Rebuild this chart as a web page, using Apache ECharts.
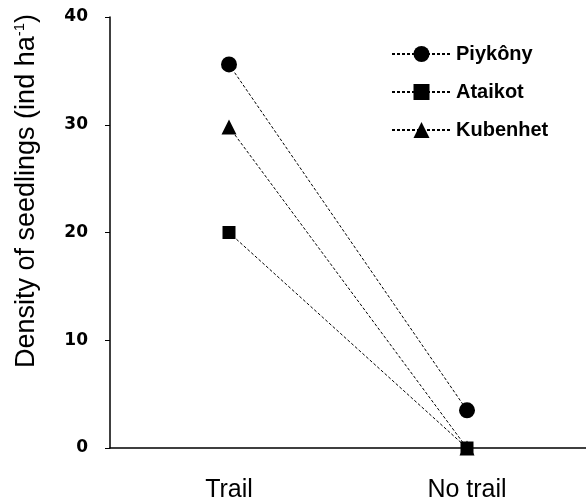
<!DOCTYPE html>
<html>
<head>
<meta charset="utf-8">
<script src="https://cdn.jsdelivr.net/npm/echarts@6/dist/echarts.min.js"></script>
<style>
html,body{margin:0;padding:0;background:#fff;}
#chart{width:586px;height:503px;}
</style>
</head>
<body>
<div id="chart"></div>
<script>
var categories = ['Trail', 'No trail'];
var piykony = [35.6, 3.5];
var ataikot = [20, 0];
var kubenhet = [29.8, 0];
var yTicks = [0, 10, 20, 30, 40];

var chart = echarts.init(document.getElementById('chart'));

function mkSeries(name, data, symbol, size) {
    return {
        name: name,
        type: 'line',
        data: data,
        symbol: symbol,
        symbolSize: size,
        itemStyle: {color: '#000'},
        lineStyle: {color: '#000', width: 1, type: [3, 2]},
        z: 3
    };
}

chart.setOption({
    animation: false,
    grid: {left: 110, right: 0, top: 17, bottom: 54},
    legend: {
        orient: 'vertical',
        left: 386,
        top: 39,
        itemWidth: 59,
        itemHeight: 20,
        itemGap: 18,
        textStyle: {fontFamily: 'Liberation Sans', fontWeight: 'bold', fontSize: 20, color: '#000'},
        data: ['Piykôny', 'Ataikot', 'Kubenhet']
    },
    xAxis: {
        type: 'category',
        data: categories,
        boundaryGap: true,
        axisLine: {lineStyle: {color: '#000', width: 1.5}},
        axisTick: {alignWithLabel: true, inside: true, length: 6, lineStyle: {color: '#000'}},
        axisLabel: {margin: 30, fontFamily: 'Liberation Sans', fontSize: 25, color: '#000'}
    },
    yAxis: {
        type: 'value',
        min: yTicks[0],
        max: yTicks[yTicks.length - 1],
        interval: 10,
        splitLine: {show: false},
        axisLine: {show: true, lineStyle: {color: '#000', width: 1.5}},
        axisTick: {show: true, length: 5, lineStyle: {color: '#000'}},
        axisLabel: {margin: 22, fontFamily: 'DejaVu Sans', fontWeight: 'bold', fontSize: 17, color: '#000'}
    },
    graphic: [{
        type: 'text',
        x: 27,
        y: 191,
        rotation: Math.PI / 2,
        style: {
            text: '{n|Density of seedlings (ind ha}{s|-1}{n|)}',
            align: 'center',
            verticalAlign: 'middle',
            fill: '#000',
            rich: {
                n: {fontFamily: 'Liberation Sans', fontSize: 27, color: '#000'},
                s: {fontFamily: 'Liberation Sans', fontSize: 15, color: '#000', padding: [0, 0, 14, 0]}
            }
        }
    }],
    series: [
        mkSeries('Piykôny', piykony, 'circle', 16),
        mkSeries('Ataikot', ataikot, 'rect', 13),
        mkSeries('Kubenhet', kubenhet, 'triangle', 15)
    ]
});
</script>
</body>
</html>
